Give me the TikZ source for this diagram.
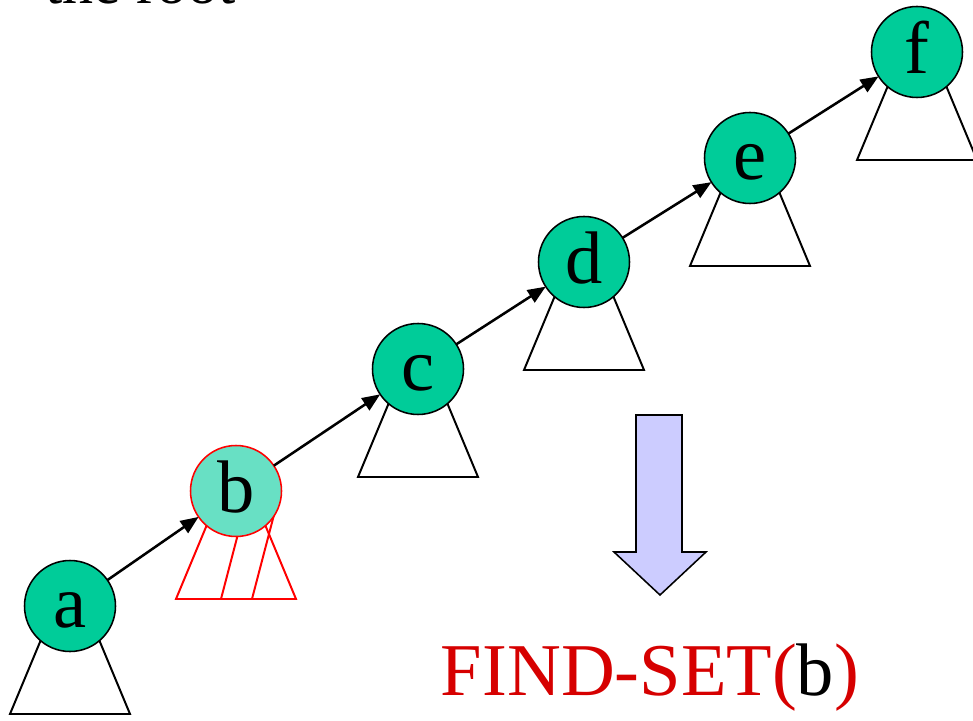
\documentclass[tikz,border=0pt]{standalone}
\usepackage{fontspec}
\setmainfont{Liberation Serif}
\usetikzlibrary{positioning,arrows.meta,backgrounds}
\definecolor{setgreen}{RGB}{0,204,153}
\definecolor{visitgreen}{RGB}{104,224,196}
\definecolor{opred}{RGB}{214,0,0}
\definecolor{downblue}{RGB}{204,204,255}

\begin{document}
\begin{tikzpicture}
[every node/.style={inner sep=0mm,outer sep=0mm,font=\fontsize{53}{60}\selectfont},
 elem/.style={circle,draw=black,line width=1.1pt,fill=setgreen,minimum size=22.75mm,text height=10.8mm,text depth=0mm},
 cur/.style={elem,draw=red,fill=visitgreen},
 subtree/.style={draw=black,line width=1.4pt},
 parent/.style={-{Triangle[length=4.5mm,width=3.6mm]},line width=1.8pt}]
\useasboundingbox (0,0) rectangle (24.325,18);
\node[elem] (a) at (1.75,2.85)                               {a};
\node[cur]  (b) [on grid,above right=28.75mm and 41.5mm of a] {b};
\node[elem] (c) [on grid,above right=30.5mm and 45.5mm of b]  {c};
\node[elem] (d) [on grid,above right=26.75mm and 41.5mm of c] {d};
\node[elem] (e) [on grid,above right=26mm and 41.5mm of d]    {e};
\node[elem] (f) [on grid,above right=26.5mm and 41.75mm of e] {f};
\path[parent] (a) edge (b);
\path[parent] (b) edge (c);
\path[parent] (c) edge (d);
\path[parent] (d) edge (e);
\path[parent] (e) edge (f);

% subtrees hang under each node, behind the circles
\begin{scope}[on background layer]
\foreach \n in {a,c,d,e,f}
  \draw[subtree] ([yshift=9mm]\n.center) -- ++(-15mm,-36mm) -- ++(30mm,0) -- cycle;
\draw[subtree,draw=red] ([yshift=9mm]b.center) -- ++(-15mm,-36mm) -- ++(30mm,0) -- cycle;
\draw[subtree,draw=red] ([shift={(-3.75mm,-27mm)}]b.center) -- ([shift={(2mm,-5mm)}]b.center);
\draw[subtree,draw=red] ([shift={(4mm,-27mm)}]b.center) -- ([shift={(9.75mm,-5mm)}]b.center);
\end{scope}

\node[anchor=base west,font=\fontsize{44}{50}\selectfont] (root) at (1.125,17.9) {the root};

% the big down arrow
\draw[fill=downblue,line width=1.1pt] (15.9,7.625) -- (17.05,7.625) -- (17.05,4.2) -- (17.65,4.2)
  -- (16.5,3.125) -- (15.35,4.2) -- (15.9,4.2) -- cycle;
\node[anchor=base,text=opred] (call) at (16.25,0.625) {FIND-SET(\textcolor{black}{b})};
\end{tikzpicture}
\end{document}
